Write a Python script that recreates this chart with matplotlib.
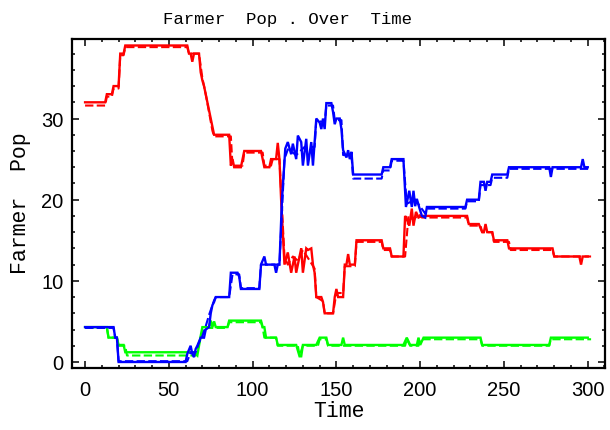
import matplotlib
matplotlib.use('Agg')
import matplotlib.pyplot as plt
from matplotlib.ticker import MultipleLocator

# (time, farmer pop); solid = run, dashed = second series
red_solid = [(0, 32), (12, 32), (13, 33), (16, 33), (17, 34), (20, 34), (21, 38), (23, 38), (24, 39),
             (61, 39), (62, 38), (63, 38), (64, 37), (65, 38), (68, 38), (69, 35.7), (70, 34.7),
             (71, 34), (72, 33), (76, 29), (77, 28), (86, 28), (87, 24.2), (88, 25), (89, 24),
             (93, 24), (94, 25), (95, 26), (105, 26), (106, 25), (107, 24), (110, 24), (111, 25),
             (114, 25), (115, 27), (116, 25), (117, 20), (118, 16), (119, 12), (121, 13.5), (123, 11),
             (125, 13), (126, 11), (128, 13), (129, 14), (130, 11), (132, 14), (133, 13.8), (135, 14),
             (136, 12), (137, 11), (138, 8), (141, 8), (142, 7.4), (143, 6), (148, 6), (149, 8),
             (150, 9), (151, 8), (154, 8), (155, 12), (156, 12), (157, 13.3), (158, 12), (161, 12),
             (162, 15), (177, 15), (178, 14), (182, 14), (183, 13), (190, 13), (191, 18), (192, 17.6),
             (193.5, 16.8), (195, 18.9), (196, 16.8), (197.5, 18.5), (199, 17.8), (201, 18), (228, 18),
             (229, 17), (235, 17), (237, 16), (238, 16), (239, 17), (240, 16), (243, 16), (244, 15),
             (252, 15), (253, 14), (279, 14), (280, 13), (295, 13), (296, 12), (297, 13), (300, 13)]

blue_solid = [(0, 4.3), (17, 4.3), (18, 3), (19, 3), (20, 0), (60, 0), (61, 1), (63, 2), (64, 1),
              (65, 0.6), (66, 1.6), (67, 2), (68, 2.5), (69, 3), (71, 3), (72, 4), (74, 4.3), (75, 6),
              (76, 7), (77, 7.4), (78, 8), (86, 8), (87, 11), (91, 11), (92, 10.5), (93, 9), (104, 9),
              (105, 12), (107, 13), (108, 12), (113, 12), (114, 11), (115, 12), (116, 12), (117.5, 20),
              (119.5, 26.3), (121, 27.1), (123, 25.6), (124, 26.9), (126, 25), (127, 27.9), (129, 27.1),
              (130, 24.2), (132, 27.5), (133, 24.2), (135, 27.1), (136, 24.2), (137, 27.1), (138, 30),
              (140, 29.5), (141, 28.7), (142, 30), (143, 28.7), (144, 31.9), (147, 31.9), (148, 30.8),
              (149, 29.3), (150, 30), (152, 30), (153, 28.7), (154, 26.1), (156, 25.2), (157, 26.1),
              (158, 25), (159, 25.9), (160, 23.1), (177, 23.1), (178, 24), (182, 24), (183, 25),
              (190, 25), (191.5, 19.1), (193.5, 21.1), (195, 19.1), (196, 21.1), (197, 19.2),
              (198, 20.1), (199.5, 19), (201, 18), (203, 17.8), (204, 19.1), (227, 19.1), (228, 20),
              (235, 20), (236, 22.2), (238, 22.2), (239, 21.1), (240, 22.2), (242, 22.2), (243, 23.1),
              (252, 23.1), (253, 24), (277, 24), (278, 22.8), (279, 24), (296, 24), (297, 25),
              (298, 24), (300, 24)]

green_solid = [(0, 4.3), (13, 4.3), (14, 3), (19, 3), (20, 2.1), (23, 2.1), (24, 1.2), (65, 1.2),
               (67, 0.8), (69, 3.2), (70, 4.3), (74, 4.3), (75, 5.1), (76, 4.3), (77, 5), (78, 4.3),
               (85, 4.3), (86, 5.1), (105, 5.1), (106, 4.3), (107, 4.3), (108, 3), (114, 3), (115, 2.1),
               (126, 2.1), (128, 0.7), (129, 0.7), (130, 2.1), (138, 2.1), (140, 3), (144, 3), (145, 2.1),
               (153, 2.1), (154, 3), (155, 2.1), (190, 2.1), (192, 3), (194, 2.1), (198, 2.1), (199, 3),
               (200, 2.1), (202, 3), (236, 3), (237, 2.1), (277, 2.1), (278, 3), (300, 3)]

red_dash = [(0, 31.6), (12, 31.6), (13, 32.7), (16, 32.7), (17, 33.7), (20, 33.7), (21, 37.8), (23, 37.8),
            (24, 38.8), (61, 38.8), (62, 38), (68, 38), (70, 35), (72, 33), (76, 28.5), (77, 27.8),
            (87, 27.8), (88, 24.2), (94, 24.2), (95, 25.8), (106, 25.8), (107, 24.2), (111, 24.2),
            (112, 25), (116, 25), (119, 13), (121, 12), (124, 13), (127, 12.5), (130, 13.8), (134, 12.5),
            (137, 11.5), (138, 8), (142, 7.5), (143, 6), (148, 6), (150, 8.5), (154, 8.5), (155, 11.8),
            (161, 11.8), (162, 14.8), (177, 14.8), (178, 13.8), (182, 13.8), (183, 13), (191, 13),
            (193, 18), (196, 17.5), (199, 18.2), (201, 17.8), (228, 17.8), (229, 16.8), (236, 16.8),
            (237, 16), (243, 16), (244, 14.8), (253, 14.8), (254, 13.8), (279, 13.8), (280, 13), (302, 13)]

blue_dash = [(0, 4.2), (17, 4.2), (18, 3), (19, 3), (20, 0.1), (61, 0.1), (63, 1.2), (66, 1.2), (68, 2.4),
             (70, 3.2), (72, 4.4), (74, 5.8), (77, 7.6), (78, 8), (86, 8), (88, 10.8), (92, 10.8),
             (93, 9.1), (104, 9.1), (105, 12), (116, 12), (119, 25), (121, 26.2), (126, 25.5),
             (131, 26.5), (137, 26.5), (138, 29.8), (143, 29.5), (144, 31.6), (148, 31.6), (149, 29.8),
             (153, 29.8), (154, 25.5), (159, 25.5), (160, 22.6), (177, 22.6), (178, 23.6), (182, 23.6),
             (183, 24.8), (190, 24.8), (192, 19.5), (197, 20), (203, 18.3), (204, 18.9), (227, 18.9),
             (228, 19.8), (235, 19.8), (236, 21.8), (242, 21.8), (243, 22.7), (252, 22.7), (253, 23.8),
             (302, 23.8)]

green_dash = [(0, 4.2), (13, 4.2), (14, 3), (19, 3), (20, 2), (24, 2), (25, 0.8), (66, 0.8), (69, 3),
              (71, 4.2), (85, 4.2), (86, 4.9), (105, 4.9), (106, 4.2), (107, 3), (114, 3), (115, 2),
              (127, 2), (128, 0.8), (130, 2), (139, 2), (140, 2.8), (144, 2.8), (145, 2), (191, 2),
              (192, 2.8), (194, 2), (199, 2), (200, 2.8), (236, 2.8), (237, 2), (277, 2), (278, 2.8),
              (302, 2.8)]

series = [(red_solid, red_dash, '#ff0000'),
          (green_solid, green_dash, '#00ff00'),
          (blue_solid, blue_dash, '#0000ff')]

fig = plt.figure(figsize=(6.1, 4.31), dpi=100)
ax = fig.add_axes([72 / 610, 1 - 369 / 431, 533 / 610, 329 / 431])

for solid, dash, col in series:
    t, v = zip(*solid)
    ax.plot(t, v, color=col, lw=1.7, solid_joinstyle='miter')
    t, v = zip(*dash)
    ax.plot(t, v, color=col, lw=1.5, dashes=(4, 1.6))

ax.set_xlim(-7.8, 310.3)
ax.set_ylim(-0.74, 39.8)

ax.xaxis.set_major_locator(MultipleLocator(50))
ax.xaxis.set_minor_locator(MultipleLocator(10))
ax.yaxis.set_major_locator(MultipleLocator(10))
ax.yaxis.set_minor_locator(MultipleLocator(2))
ax.tick_params(which='both', direction='in', top=True, right=True, width=1.1)
ax.tick_params(which='major', length=5)
ax.tick_params(which='minor', length=2.5)
ax.tick_params(axis='x', pad=9)
ax.tick_params(axis='y', pad=6)
for lab in ax.get_xticklabels() + ax.get_yticklabels():
    lab.set_family('Liberation Sans')
    lab.set_fontsize(14.5)
for s in ax.spines.values():
    s.set_linewidth(1.6)

mono = 'Liberation Mono'
fig.text(287.5 / 610, 1 - 24 / 431, 'Farmer  Pop . Over  Time', family=mono,
         fontsize=12.5, ha='center', va='baseline')
ax.set_xlabel('Time', family=mono, fontsize=15.5, va='center')
ax.xaxis.set_label_coords(0.5, (369 - 412) / 329)
ax.set_ylabel('Farmer  Pop', family=mono, fontsize=15.5, va='center')
ax.yaxis.set_label_coords((21 - 72) / 533, (369 - 203) / 329)

fig.savefig('out.png', dpi=100)
